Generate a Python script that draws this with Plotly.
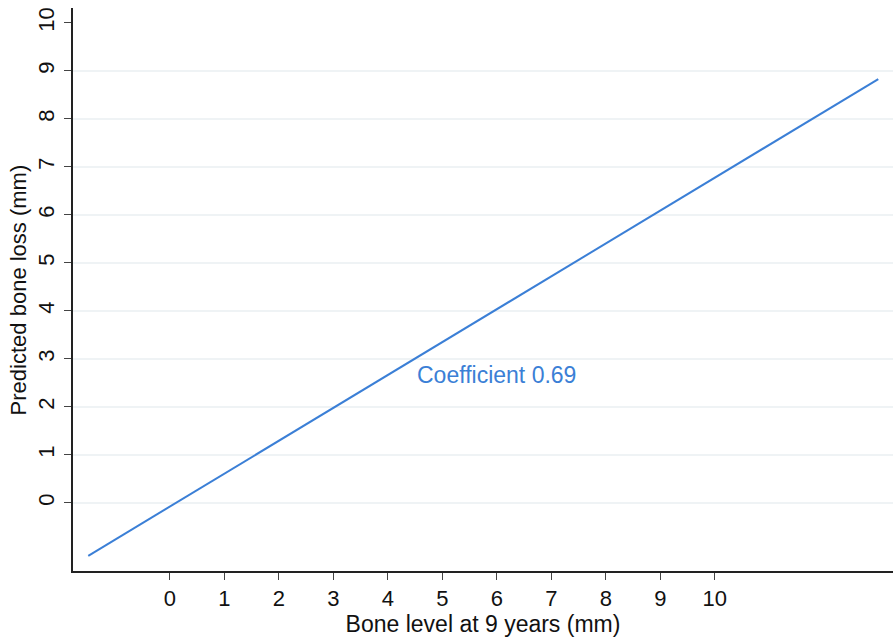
import plotly.graph_objects as go

# Data
bone_level = [-1.5, 13.0]
predicted_loss = [-1.10, 8.83]
x_ticks = list(range(0, 11))
y_ticks = list(range(0, 11))
grid_vals = list(range(0, 10))
annotation_text = "Coefficient 0.69"
annotation_pos = (4.5, 2.67)
x_title = "Bone level at 9 years (mm)"
y_title = "Predicted bone loss (mm)"

line_color = "#3b7fd6"
font_family = "Liberation Sans, Arial, Helvetica, sans-serif"

fig = go.Figure()
fig.add_trace(go.Scatter(x=bone_level, y=predicted_loss, mode="lines",
                         line=dict(color=line_color, width=2), showlegend=False,
                         hoverinfo="skip"))

for g in grid_vals:
    fig.add_shape(type="line", xref="paper", x0=0, x1=1, yref="y", y0=g, y1=g,
                  line=dict(color="#eaeff2", width=1.5), layer="below")

fig.add_annotation(x=annotation_pos[0], y=annotation_pos[1], text=annotation_text,
                   showarrow=False, xanchor="left", yanchor="middle",
                   font=dict(color=line_color, size=23, family=font_family))

# y-axis title placed as rotated text in the left margin
fig.add_annotation(xref="paper", yref="paper", x=-0.066, y=0.5, text=y_title,
                   textangle=-90, showarrow=False, xanchor="center", yanchor="middle",
                   font=dict(color="#111111", size=22, family=font_family))

fig.update_layout(
    width=894, height=642,
    margin=dict(l=73, r=1, t=8, b=71),
    paper_bgcolor="white", plot_bgcolor="white",
    font=dict(family=font_family, color="#111111", size=22),
)
fig.update_xaxes(range=[-1.78, 13.27], tickvals=x_ticks, ticktext=[str(v) for v in x_ticks],
                 showgrid=False, zeroline=False, showline=True, linecolor="#222222", linewidth=1.5,
                 ticks="outside", ticklen=7, tickwidth=1.2, tickcolor="#444444",
                 tickfont=dict(size=22), automargin=False,
                 title=dict(text=x_title, font=dict(size=23), standoff=4))
fig.update_yaxes(range=[-1.417, 10.31], tickvals=y_ticks, ticktext=[str(v) for v in y_ticks],
                 showgrid=False, zeroline=False, showline=True, linecolor="#222222", linewidth=1.5,
                 ticks="outside", ticklen=7, tickwidth=1.2, tickcolor="#444444",
                 tickangle=-90, tickfont=dict(size=22), automargin=False, ticklabelstandoff=1)

fig.write_html("out.html", config={"displayModeBar": False},
               post_script="document.body.style.margin='0';document.body.style.overflow='hidden';")
